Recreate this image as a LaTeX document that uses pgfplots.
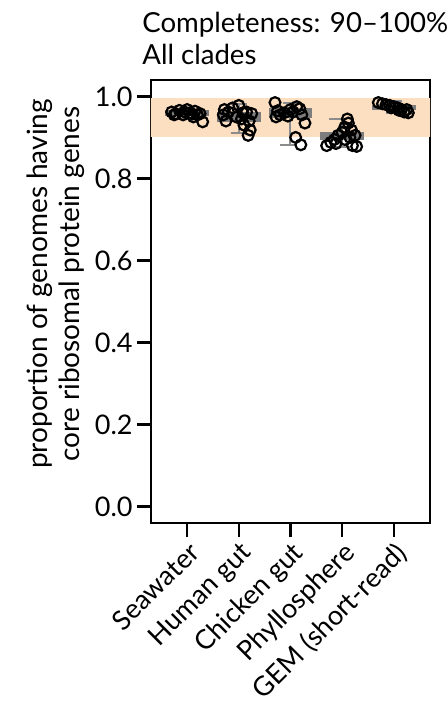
\documentclass[border=0pt]{standalone}
\usepackage{fontspec}
\setmainfont{Lato}
\usepackage{pgfplots}
\pgfplotsset{compat=1.18}
\definecolor{peach}{RGB}{252,223,192}
\definecolor{boxgray}{RGB}{125,125,125}
\definecolor{whiskgray}{RGB}{140,140,140}
\begin{document}
\fontsize{13.5pt}{16pt}\selectfont
\begin{tikzpicture}
\path[use as bounding box] (-75.5pt,-89.5pt) rectangle (148pt,261.5pt);
\begin{axis}[
  anchor=south west, at={(0,0)},
  scale only axis, width=139.5pt, height=221.5pt,
  xmin=-0.7, xmax=4.7, ymin=-0.04, ymax=1.04,
  xtick={0,1,2,3,4},
  xticklabels={Seawater,Human gut,Chicken gut,Phyllosphere,GEM (short-read)},
  ytick={0,0.2,0.4,0.6,0.8,1.0},
  yticklabel style={/pgf/number format/fixed, /pgf/number format/fixed zerofill, /pgf/number format/precision=1, /pgf/number format/assume math mode=true, inner sep=2pt, font=\fontsize{13.5pt}{16pt}\selectfont},
  tick align=outside, major tick length=7pt,
  xtick pos=bottom, ytick pos=left,
  every tick/.style={black, line width=1.2pt},
  axis line style={line width=1.2pt},
  xticklabel style={rotate=45, anchor=north east, inner sep=1pt, font=\fontsize{13.5pt}{16pt}\selectfont},
  unbounded coords=jump,
  clip=true,
]
% highlighted range
\addplot[fill=peach, draw=none] coordinates {(-1,0.90) (6,0.90) (6,0.995) (-1,0.995)} -- cycle;

% boxes (lower quartile to upper quartile)
\addplot[fill=boxgray, draw=none] coordinates {(-0.425,0.952) (0.425,0.952) (0.425,0.966) (-0.425,0.966)} -- cycle;
\addplot[fill=boxgray, draw=none] coordinates {(0.575,0.938) (1.425,0.938) (1.425,0.962) (0.575,0.962)} -- cycle;
\addplot[fill=boxgray, draw=none] coordinates {(1.575,0.947) (2.425,0.947) (2.425,0.971) (1.575,0.971)} -- cycle;
\addplot[fill=boxgray, draw=none] coordinates {(2.575,0.893) (3.425,0.893) (3.425,0.913) (2.575,0.913)} -- cycle;
\addplot[fill=boxgray, draw=none] coordinates {(3.575,0.966) (4.425,0.966) (4.425,0.978) (3.575,0.978)} -- cycle;

% whiskers and caps
\addplot[whiskgray, line width=1pt] coordinates {
(0,0.952) (0,0.945) (nan,nan) (-0.15,0.945) (0.15,0.945) (nan,nan) (0,0.966) (0,0.972) (nan,nan) (-0.15,0.972) (0.15,0.972) (nan,nan)
(1,0.938) (1,0.910) (nan,nan) (0.85,0.910) (1.15,0.910) (nan,nan) (1,0.962) (1,0.982) (nan,nan) (0.85,0.982) (1.15,0.982) (nan,nan)
(2,0.947) (2,0.881) (nan,nan) (1.80,0.881) (2.10,0.881) (nan,nan) (2,0.971) (2,0.985) (nan,nan) (1.85,0.985) (2.15,0.985) (nan,nan)
(3,0.893) (3,0.877) (nan,nan) (2.85,0.877) (3.15,0.877) (nan,nan) (3,0.913) (3,0.944) (nan,nan) (2.75,0.944) (3.05,0.944) (nan,nan)
(4,0.966) (4,0.959) (nan,nan) (3.85,0.959) (4.15,0.959) (nan,nan) (4,0.978) (4,0.988) (nan,nan) (3.85,0.988) (4.15,0.988)
};

% genomes (jittered)
\addplot[only marks, mark=o, mark size=2.7pt, mark options={line width=1.1pt, black}] coordinates {
(-0.30,0.962) (-0.22,0.958) (-0.15,0.966) (-0.08,0.955) (0.00,0.968) (0.05,0.960) (0.10,0.957) (0.15,0.964) (0.20,0.955) (0.25,0.958) (-0.25,0.955) (0.30,0.938) (0.12,0.950) (-0.05,0.962)
(0.70,0.955) (0.75,0.940) (0.80,0.962) (0.88,0.972) (0.95,0.950) (1.00,0.978) (1.05,0.945) (1.10,0.930) (1.15,0.962) (1.20,0.940) (1.25,0.958) (1.22,0.918) (1.18,0.905) (0.72,0.968) (1.08,0.960)
(1.70,0.985) (1.75,0.965) (1.80,0.955) (1.88,0.960) (1.95,0.952) (2.05,0.962) (2.12,0.975) (2.18,0.970) (2.22,0.955) (2.28,0.935) (2.10,0.900) (2.20,0.882) (1.72,0.950) (2.00,0.968)
(2.70,0.880) (2.78,0.888) (2.85,0.895) (2.92,0.905) (3.00,0.912) (3.05,0.925) (3.10,0.945) (3.12,0.935) (3.18,0.918) (3.25,0.905) (3.20,0.880) (3.28,0.878) (2.88,0.885) (3.05,0.895) (3.15,0.900)
(3.70,0.985) (3.78,0.982) (3.85,0.980) (3.92,0.978) (4.00,0.975) (4.08,0.972) (4.15,0.968) (4.20,0.962) (4.28,0.960) (4.25,0.968) (3.95,0.972) (4.10,0.966)
};
\end{axis}
\node[anchor=base west, inner sep=0pt, font=\fontsize{13.8pt}{16pt}\selectfont] at (-4.5pt,245pt) {Completeness: 90–100\%};
\node[anchor=base west, inner sep=0pt, font=\fontsize{13.8pt}{16pt}\selectfont] at (-4.5pt,229pt) {All clades};
\node[rotate=90, align=center, inner sep=0pt, font=\fontsize{14pt}{16pt}\selectfont] at (-47.5pt,119.5pt) {proportion of genomes having\\core ribosomal protein genes};
\end{tikzpicture}
\end{document}
